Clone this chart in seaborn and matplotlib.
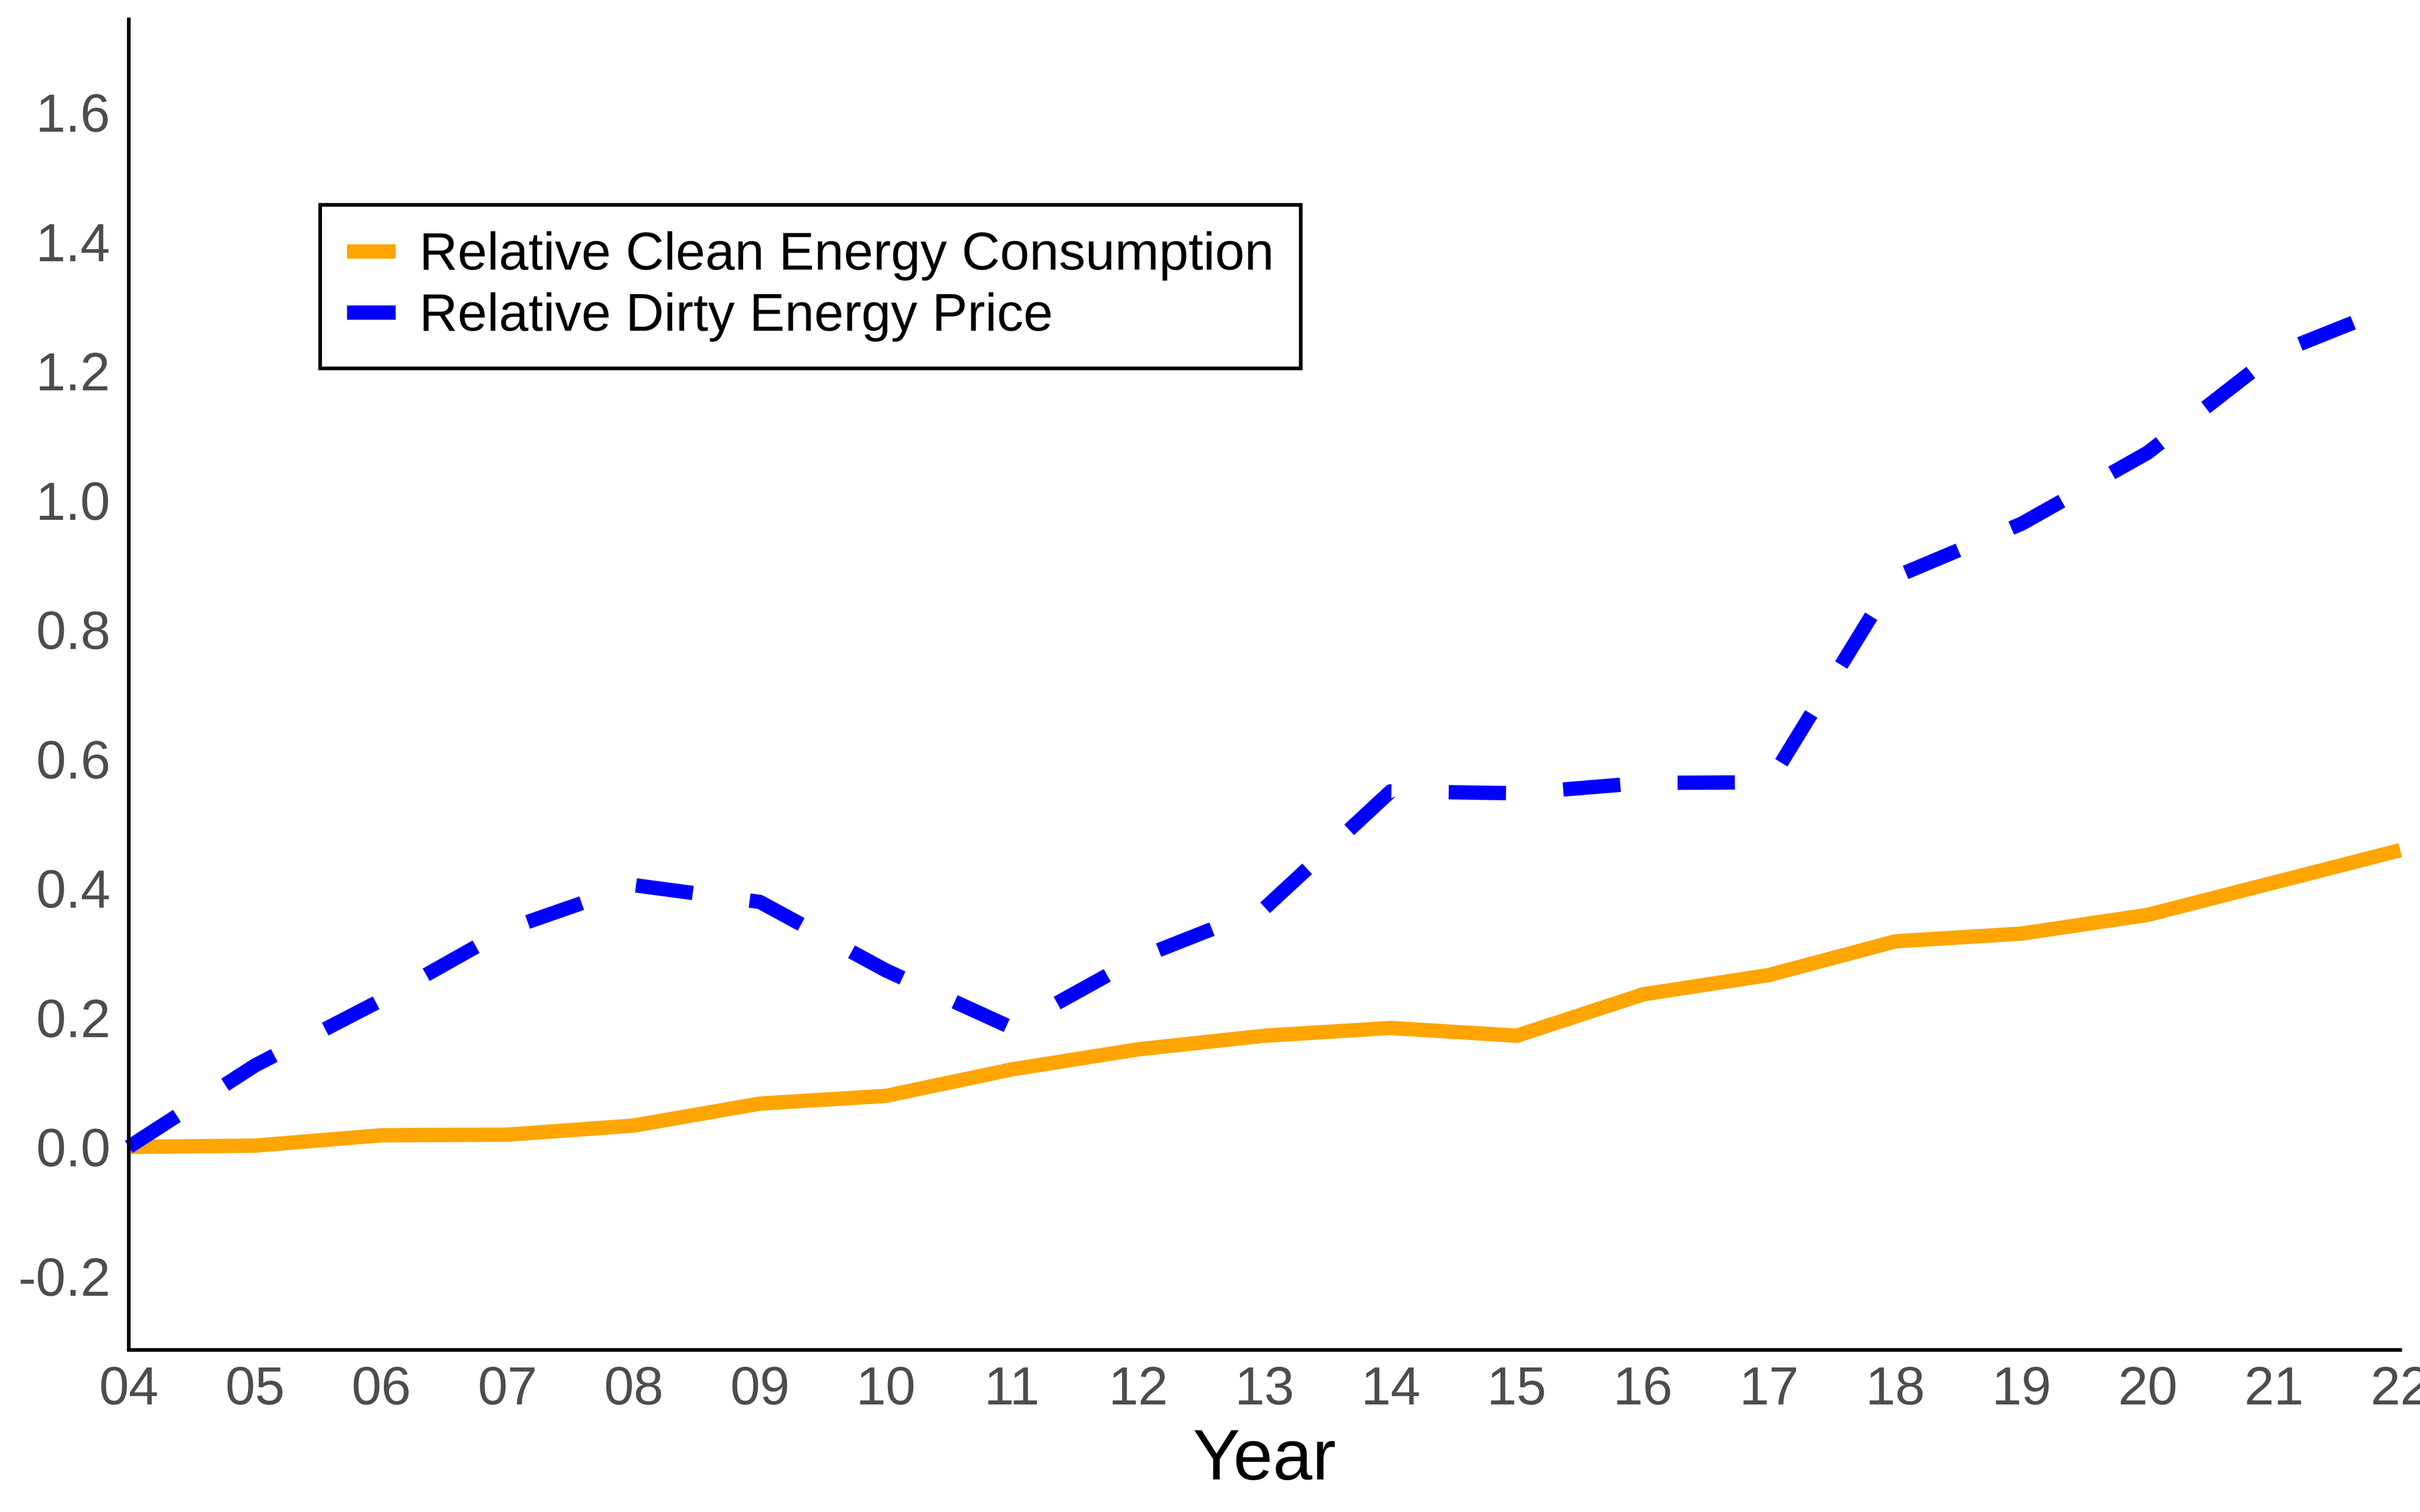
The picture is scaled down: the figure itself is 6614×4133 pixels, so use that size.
import numpy as np
import pandas as pd
import matplotlib.pyplot as plt
import seaborn as sns
from matplotlib.lines import Line2D

# values
years = list(range(4, 23))
year_labels = ['04', '05', '06', '07', '08', '09', '10', '11', '12', '13',
               '14', '15', '16', '17', '18', '19', '20', '21', '22']
clean_energy = [0.000, 0.002, 0.018, 0.019, 0.033, 0.067, 0.079, 0.120, 0.151, 0.172,
                0.184, 0.172, 0.236, 0.266, 0.318, 0.330, 0.359, 0.409, 0.459]
dirty_price = [0.000, 0.126, 0.227, 0.337, 0.405, 0.379, 0.273, 0.184, 0.292, 0.369,
               0.550, 0.547, 0.563, 0.564, 0.882, 0.964, 1.074, 1.226, 1.304]
y_ticks = [-0.2, 0.0, 0.2, 0.4, 0.6, 0.8, 1.0, 1.2, 1.4, 1.6]

clean_name = 'Relative Clean Energy Consumption'
dirty_name = 'Relative Dirty Energy Price'

df = pd.DataFrame({
    'Year': years + years,
    'Value': clean_energy + dirty_price,
    'Series': [clean_name] * len(years) + [dirty_name] * len(years),
})

sns.set_style('white')
plt.rcParams['font.family'] = ['Liberation Sans', 'DejaVu Sans']

fig = plt.figure(figsize=(6614 / 600, 4133 / 600), dpi=600)
ax = fig.add_axes([352 / 6614, 1 - 3690 / 4133, (6560 - 352) / 6614, (3690 - 53) / 4133])

lw = 4.7
sns.lineplot(data=df, x='Year', y='Value', hue='Series', style='Series',
             palette={clean_name: 'orange', dirty_name: 'blue'},
             dashes={clean_name: '', dirty_name: (4, 4)},
             linewidth=lw, ax=ax, legend=False)
for line in ax.lines:
    line.set_solid_capstyle('butt')
    line.set_dash_capstyle('butt')
    line.set_clip_on(False)

ax.set_xlim(4, 22)
ax.set_ylim(-0.314, 1.744)
ax.set_xticks(years)
ax.set_xticklabels(year_labels)
ax.set_yticks(y_ticks)
ax.set_yticklabels([f'{v:.1f}' for v in y_ticks])

for side in ['top', 'right']:
    ax.spines[side].set_visible(False)
for side in ['left', 'bottom']:
    ax.spines[side].set_color('black')
    ax.spines[side].set_linewidth(1.2)

ax.tick_params(axis='both', which='major', direction='out', length=3.2, width=1.1,
               color='#333333', labelcolor='#4D4D4D', labelsize=17.6)
ax.tick_params(axis='x', pad=2.0)
ax.tick_params(axis='y', pad=2.8)

ax.set_xlabel('Year', fontsize=23.3, color='black', labelpad=4)
ax.set_ylabel('')

# legend with line keys, black square frame
handles = [Line2D([], [], color='orange', lw=lw, solid_capstyle='butt'),
           Line2D([], [], color='blue', lw=lw, linestyle=(0, (4, 4)), dash_capstyle='butt')]
leg = ax.legend(handles, [clean_name, dirty_name], loc='upper left',
                bbox_to_anchor=(0.0843, 0.8606), borderaxespad=0,
                fontsize=17.4, frameon=True, fancybox=False, framealpha=1,
                edgecolor='black', borderpad=0.5, handlelength=0.92,
                handletextpad=0.45, labelspacing=0.22, labelcolor='black')
leg.get_frame().set_linewidth(1.2)

fig.savefig('out.png', dpi=600, facecolor='white')
